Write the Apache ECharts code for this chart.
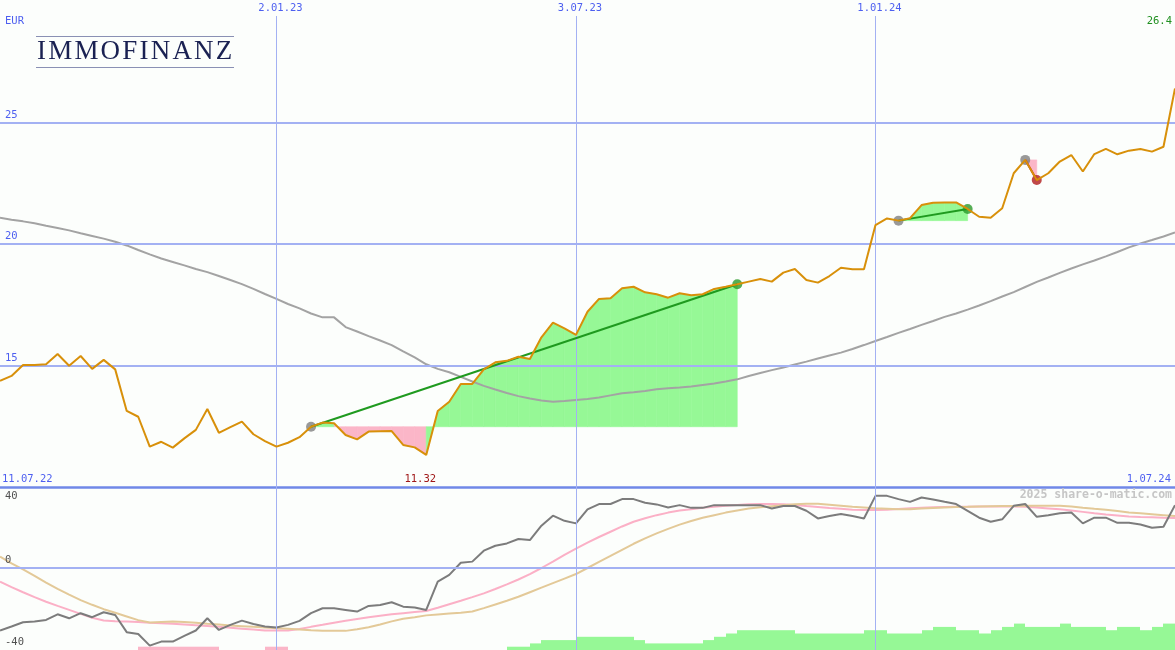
<!DOCTYPE html>
<html><head><meta charset="utf-8">
<script src="https://cdn.jsdelivr.net/npm/echarts@6/dist/echarts.min.js"></script>
<style>
html,body{margin:0;padding:0;background:#fcfefc;}
#wrap{position:relative;width:1175px;height:650px;overflow:hidden;}
#chart{position:absolute;left:0;top:0;width:1175px;height:650px;}
#logo{position:absolute;left:36px;top:36px;width:198px;height:30px;border-top:1px solid #8a90b4;border-bottom:1px solid #8a90b4;z-index:2;pointer-events:none;}
#logo span{position:absolute;left:1px;top:0;font-family:"Liberation Serif",serif;font-size:27px;line-height:27px;letter-spacing:2.2px;color:#1a2152;white-space:nowrap;}
</style></head>
<body><div id="wrap"><div id="chart"></div><div id="logo"><span>IMMOFINANZ</span></div></div>
<script>
// ---- data (weekly points, index 0 = 11.07.22, index 102 = 1.07.24) ----
const price = [14.37,14.57,15.02,15.02,15.05,15.47,14.99,15.39,14.86,15.23,
 14.84,13.13,12.89,11.66,11.86,11.62,12.00,12.35,13.21,12.23,
 12.46,12.69,12.17,11.89,11.66,11.82,12.05,12.48,12.65,12.62,
 12.14,11.96,12.28,12.29,12.30,11.73,11.63,11.32,13.13,13.51,
 14.24,14.24,14.84,15.13,15.19,15.36,15.27,16.16,16.76,16.53,
 16.26,17.21,17.74,17.77,18.18,18.24,18.01,17.93,17.79,17.97,
 17.89,17.93,18.15,18.24,18.34,18.45,18.56,18.45,18.82,18.97,
 18.52,18.41,18.68,19.02,18.96,18.96,20.78,21.05,20.96,21.06,
 21.60,21.70,21.71,21.71,21.44,21.12,21.08,21.47,22.91,23.46,
 22.63,22.91,23.39,23.66,22.98,23.70,23.91,23.69,23.84,23.91,
 23.80,24.00,26.40];
const movingAvg = [21.08,21.00,20.93,20.85,20.75,20.66,20.56,20.44,20.33,20.22,
 20.09,19.94,19.75,19.57,19.40,19.26,19.12,18.97,18.84,18.68,
 18.52,18.35,18.15,17.94,17.74,17.53,17.35,17.14,16.98,16.98,
 16.58,16.40,16.21,16.03,15.84,15.58,15.33,15.05,14.86,14.72,
 14.53,14.34,14.16,14.01,13.87,13.74,13.64,13.56,13.51,13.54,
 13.58,13.62,13.68,13.77,13.86,13.90,13.95,14.02,14.06,14.09,
 14.14,14.20,14.26,14.34,14.43,14.57,14.69,14.81,14.92,15.04,
 15.16,15.29,15.41,15.53,15.68,15.84,16.01,16.17,16.34,16.50,
 16.67,16.83,17.00,17.14,17.30,17.47,17.65,17.84,18.02,18.23,
 18.44,18.62,18.81,18.99,19.16,19.32,19.49,19.67,19.86,20.02,
 20.16,20.31,20.47];
const oscMain = [-34.3,-32.1,-29.8,-29.4,-28.5,-25.4,-27.6,-24.8,-27.0,-24.3,
 -25.8,-35.2,-36.2,-42.6,-40.4,-40.4,-37.3,-34.3,-27.6,-34.0,
 -31.2,-28.9,-30.7,-32.1,-32.7,-31.2,-29.0,-24.8,-22.1,-22.1,
 -23.0,-23.9,-20.8,-20.3,-18.8,-21.2,-21.7,-23.0,-7.5,-3.8,
 2.9,3.5,9.5,12.2,13.5,15.9,15.3,23.2,28.7,25.9,
 24.5,32.2,35.1,35.1,37.8,37.8,35.8,34.9,33.2,34.5,
 33.0,33.0,34.5,34.5,34.5,34.5,34.5,32.7,34.0,34.0,
 31.4,27.2,28.5,29.6,28.5,27.2,39.6,39.6,37.8,36.3,
 38.7,37.6,36.3,35.1,31.4,27.6,25.4,26.7,34.1,35.1,
 28.1,29.0,30.0,30.5,24.5,27.6,27.6,24.8,24.8,23.9,
 22.1,22.6,34.5];
const oscPink = [-7.5,-10.5,-13.3,-16.0,-18.5,-20.8,-23.0,-25.2,-27.3,-28.8,
 -29.2,-29.4,-29.6,-30.0,-30.3,-30.6,-31.0,-31.4,-31.8,-32.3,
 -32.8,-33.3,-33.8,-34.3,-34.3,-34.3,-33.5,-32.3,-31.2,-30.0,
 -29.0,-28.0,-27.0,-26.2,-25.4,-24.8,-24.2,-23.6,-21.8,-19.9,
 -18.0,-16.0,-13.9,-11.5,-9.0,-6.3,-3.4,0.0,3.5,7.2,
 10.6,13.9,17.0,19.9,22.8,25.4,27.3,29.0,30.4,31.5,
 32.3,33.0,33.6,34.1,34.6,35.0,35.1,35.1,35.0,34.6,
 34.0,33.5,32.9,32.5,32.0,31.8,31.8,32.0,32.4,32.8,
 33.1,33.3,33.5,33.6,33.6,33.7,33.7,33.7,33.7,33.6,
 33.2,32.7,32.2,31.5,30.8,30.0,29.3,28.8,28.3,28.0,
 27.8,27.6,27.5];
const oscTan = [6.2,2.6,-0.8,-4.3,-8.0,-11.5,-14.6,-17.6,-20.2,-22.6,
 -24.6,-26.6,-28.6,-29.9,-29.6,-29.4,-29.6,-30.0,-30.6,-31.0,
 -31.5,-31.9,-32.3,-32.6,-33.0,-33.4,-33.8,-34.2,-34.4,-34.5,
 -34.5,-33.6,-32.5,-31.0,-29.3,-27.9,-27.0,-26.0,-25.5,-25.0,
 -24.5,-23.9,-22.0,-20.0,-18.0,-15.8,-13.3,-10.8,-8.3,-5.8,
 -3.3,0.0,3.3,6.6,10.0,13.3,16.3,19.0,21.5,23.8,
 25.8,27.6,29.0,30.4,31.6,32.6,33.3,33.9,34.5,35.0,
 35.3,35.2,34.7,34.2,33.6,33.2,32.8,32.5,32.2,32.3,
 32.6,32.9,33.2,33.5,33.6,33.8,33.9,34.0,34.0,34.1,
 34.1,34.1,34.1,33.8,33.1,32.5,32.0,31.3,30.5,30.0,
 29.5,29.0,28.5];
const signalBars = [0,0,0,0,0,0,0,0,0,0,
 0,0,-1,-1,-1,-1,-1,-1,-1,0,
 0,0,0,-1,-1,0,0,0,0,0,
 0,0,0,0,0,0,0,0,0,0,
 0,0,0,0,1,1,2,3,3,3,
 4,4,4,4,4,3,2,2,2,2,
 2,3,4,5,6,6,6,6,6,5,
 5,5,5,5,5,6,6,5,5,5,
 6,7,7,6,6,5,6,7,8,7,
 7,7,8,7,7,7,6,7,7,6,
 7,8];
const tradeEntry = [27, 78, 89];
const tradeExit = [64, 84, 90];
const xTickIdx = [24, 50, 76];
const xTickLabels = ['2.01.23', '3.07.23', '1.01.24'];
const firstDate = '11.07.22';
const lastDate = '1.07.24';
const priceGridLevels = [15, 20, 25];
const oscLabelLevels = [40, -40];
const currency = 'EUR';

// ---- styles ----
const BLUE = '#4d5ff0';
const GRID = '#a3b1f3';
const GREEN_FILL = '#96f896';
const PINK_FILL = '#fbb6c8';
const mono = {fontFamily: 'DejaVu Sans Mono', fontSize: 10.5};
const last = price.length - 1;
const PMIN = 10, PMAX = 29.38;

function txtPoint(coord, text, color, align, offset, extra) {
  return {coord: coord, symbol: 'circle', symbolSize: 1, itemStyle: {color: 'rgba(0,0,0,0)'},
    label: Object.assign({show: true, position: 'inside', formatter: text, color: color,
      align: align, verticalAlign: 'middle', offset: offset}, mono, extra || {})};
}

function fillSeries(k) {
  const e = tradeEntry[k], x = tradeExit[k];
  const base = price[e];
  const segs = [];
  for (let i = e; i < x; i++) segs.push([i]);
  return {
    type: 'custom', xAxisIndex: 0, yAxisIndex: 0, z: 2, silent: true, data: segs,
    renderItem: function (params, api) {
      const i = api.value(0);
      const p1 = price[i + 1];
      const col = p1 >= base ? GREEN_FILL : PINK_FILL;
      const pts = [api.coord([i, base]), api.coord([i, price[i]]), api.coord([i + 1, p1]), api.coord([i + 1, base])];
      return {type: 'polygon', shape: {points: pts}, style: {fill: col, stroke: col, lineWidth: 0.6}};
    }
  };
}

function tradeLine(k) {
  const e = tradeEntry[k], x = tradeExit[k];
  const win = price[x] >= price[e];
  return {type: 'line', xAxisIndex: 0, yAxisIndex: 0, z: 5, silent: true, showSymbol: false,
    data: [[e, price[e]], [x, price[x]]],
    lineStyle: {color: win ? '#1f9a1f' : '#c02020', width: 2}};
}

const minIdx = price.indexOf(Math.min.apply(null, price));

const series = [
  { // top panel grid lines + labels
    type: 'line', xAxisIndex: 0, yAxisIndex: 0, data: [], z: 1, silent: true,
    markLine: {silent: true, symbol: ['none', 'none'], animation: false,
      data: priceGridLevels.map(v => ({yAxis: v, lineStyle: {color: GRID, width: 2, type: 'solid'},
          label: Object.assign({show: true, position: 'insideStartTop', distance: [5, 2], formatter: String(v), color: BLUE}, mono)}))
        .concat(xTickIdx.map((v, k) => ({xAxis: v, lineStyle: {color: GRID, width: 1, type: 'solid'},
          label: Object.assign({show: true, position: 'end', distance: 2, padding: [0, 0, 0, 8], formatter: xTickLabels[k], color: BLUE}, mono)})))
    }
  },
  { // bottom panel grid lines + labels
    type: 'line', xAxisIndex: 1, yAxisIndex: 1, data: [], z: 1, silent: true,
    markLine: {silent: true, symbol: ['none', 'none'], animation: false,
      data: [{yAxis: 0, lineStyle: {color: GRID, width: 2, type: 'solid'},
          label: Object.assign({show: true, position: 'insideStartTop', distance: [5, 2], formatter: '0', color: '#505050'}, mono)}]
        .concat(xTickIdx.map(v => ({xAxis: v, lineStyle: {color: GRID, width: 1, type: 'solid'}, label: {show: false}})))
    },
    markPoint: {silent: true, animation: false,
      data: oscLabelLevels.map(v => txtPoint([0, v], String(v), '#505050', 'left', [5, 1]))}
  },
  fillSeries(0), fillSeries(1), fillSeries(2),
  {type: 'line', xAxisIndex: 0, yAxisIndex: 0, z: 3, silent: true, showSymbol: false,
    data: movingAvg.map((v, i) => [i, v]), lineStyle: {color: '#a3a3a3', width: 2}},
  {type: 'scatter', xAxisIndex: 0, yAxisIndex: 0, z: 4, silent: true, symbolSize: 10,
    data: tradeEntry.map(i => ({value: [i, price[i]], itemStyle: {color: '#808080'}}))
      .concat(tradeExit.map((i, k) => ({value: [i, price[i]],
        itemStyle: {color: price[i] >= price[tradeEntry[k]] ? '#2a9a2a' : '#b01c1c'}})))},
  tradeLine(0), tradeLine(1), tradeLine(2),
  {type: 'line', xAxisIndex: 0, yAxisIndex: 0, z: 6, silent: true, showSymbol: false,
    data: price.map((v, i) => [i, v]), lineStyle: {color: '#d8900a', width: 2},
    markPoint: {silent: true, animation: false, data: [
      txtPoint([minIdx, PMIN], price[minIdx].toFixed(2), '#a01818', 'center', [-6, -8]),
      txtPoint([last, PMAX], price[last].toFixed(1), '#209020', 'right', [-3, 5]),
      txtPoint([0, PMIN], firstDate, BLUE, 'left', [2, -8]),
      txtPoint([last, PMIN], lastDate, BLUE, 'right', [-4, -8])
    ]}},
  { // signal bars
    type: 'custom', xAxisIndex: 1, yAxisIndex: 2, z: 2, silent: true,
    data: signalBars.map((v, i) => [i, v]),
    renderItem: function (params, api) {
      const i = api.value(0), v = api.value(1);
      if (!v) return null;
      const p0 = api.coord([i, 0]);
      const p1 = api.coord([i + 1, Math.abs(v)]);
      const x0 = Math.round(p0[0]), x1 = Math.round(p1[0]);
      return {type: 'rect', shape: {x: x0, y: p1[1], width: x1 - x0, height: p0[1] - p1[1]},
        style: {fill: v > 0 ? '#96f896' : '#fbb6c8'}};
    }
  },
  {type: 'line', xAxisIndex: 1, yAxisIndex: 1, z: 3, silent: true, showSymbol: false,
    data: oscPink.map((v, i) => [i, v]), lineStyle: {color: '#fbb0c6', width: 2}},
  {type: 'line', xAxisIndex: 1, yAxisIndex: 1, z: 3, silent: true, showSymbol: false,
    data: oscTan.map((v, i) => [i, v]), lineStyle: {color: '#e3c998', width: 2}},
  {type: 'line', xAxisIndex: 1, yAxisIndex: 1, z: 4, silent: true, showSymbol: false,
    data: oscMain.map((v, i) => [i, v]), lineStyle: {color: '#7c7c7c', width: 2}}
];

const chart = echarts.init(document.getElementById('chart'), null, {renderer: 'canvas'});
chart.setOption({
  animation: false,
  backgroundColor: '#fcfefc',
  title: [
    {text: currency, left: 5, top: 16, padding: 0,
      textStyle: {color: BLUE, fontSize: 10.5, fontFamily: 'DejaVu Sans Mono', fontWeight: 'normal'}},
    {text: '2025 share-o-matic.com', right: 3, top: 489, padding: 0,
      textStyle: {color: '#c6c6c6', fontSize: 11.5, fontFamily: 'DejaVu Sans Mono', fontWeight: 'bold'}}
  ],
  grid: [
    {left: 0, right: 0, top: 16, height: 471},
    {left: 0, right: 0, top: 486, height: 164}
  ],
  xAxis: [
    {gridIndex: 0, type: 'value', min: 0, max: last,
      axisLine: {show: true, onZero: false, lineStyle: {color: '#7088e8', width: 2.5}},
      axisTick: {show: false}, axisLabel: {show: false}, splitLine: {show: false}},
    {gridIndex: 1, type: 'value', min: 0, max: last, show: false, splitLine: {show: false}}
  ],
  yAxis: [
    {gridIndex: 0, type: 'value', min: PMIN, max: PMAX, show: false, splitLine: {show: false}},
    {gridIndex: 1, type: 'value', min: -45, max: 45, show: false, splitLine: {show: false}},
    {gridIndex: 1, type: 'value', min: 0, max: 49.7, show: false, splitLine: {show: false}}
  ],
  series: series
});
</script></body></html>
